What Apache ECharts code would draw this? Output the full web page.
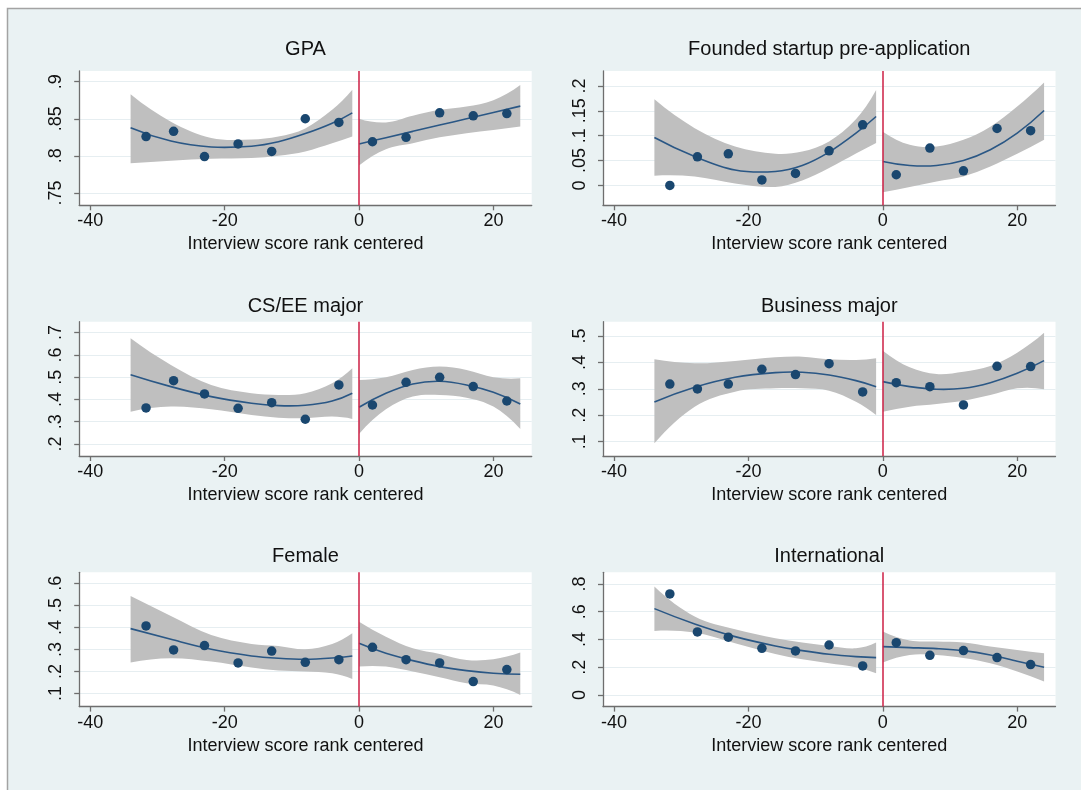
<!DOCTYPE html>
<html>
<head>
<meta charset="utf-8">
<script src="https://cdn.jsdelivr.net/npm/echarts@6/dist/echarts.min.js"></script>
<style>
html,body{margin:0;padding:0;background:#ffffff;}
#chart{width:1081px;height:790px;}
</style>
</head>
<body>
<div id="chart"></div>
<script>
// ---------- data ----------
const xTicks = [-40, -20, 0, 20];
const binX = [-31.7, -27.6, -23, -18, -13, -8, -3, 2, 7, 12, 17, 22];
const fitXLeft = [-34, -28, -22, -16, -12, -8, -4, -1];
const fitXRight = [0, 4, 8, 12, 16, 20, 24];

// GPA
const gpaTicks = [0.75, 0.8, 0.85, 0.9];
const gpaPoints = [0.826, 0.833, 0.799, 0.816, 0.806, 0.850, 0.845, 0.819, 0.825, 0.858, 0.854, 0.857];
const gpaFitL = [0.838, 0.820, 0.812, 0.813, 0.819, 0.830, 0.844, 0.858];
const gpaLoL  = [0.790, 0.7935, 0.796, 0.797, 0.800, 0.806, 0.817, 0.826];
const gpaHiL  = [0.883, 0.846, 0.824, 0.822, 0.826, 0.837, 0.862, 0.889];
const gpaFitR = [0.816, 0.8245, 0.833, 0.8415, 0.850, 0.8585, 0.867];
const gpaLoR  = [0.787, 0.809, 0.817, 0.825, 0.8306, 0.835, 0.8396];
const gpaHiR  = [0.850, 0.845, 0.854, 0.862, 0.8665, 0.875, 0.8955];

// Founded startup pre-application
const fndTicks = [0, 0.05, 0.1, 0.15, 0.2];
const fndPoints = [0.0, 0.0575, 0.0635, 0.011, 0.024, 0.0696, 0.1217, 0.0214, 0.075, 0.0294, 0.1144, 0.110];
const fndFitL = [0.0963, 0.058, 0.031, 0.028, 0.040, 0.067, 0.105, 0.1385];
const fndLoL  = [0.0194, 0.018, 0.004, -0.003, 0.010, 0.035, 0.064, 0.085];
const fndHiL  = [0.173, 0.115, 0.078, 0.0636, 0.068, 0.0883, 0.133, 0.192];
const fndFitR = [0.048, 0.040, 0.040, 0.050, 0.0716, 0.105, 0.1505];
const fndLoR  = [-0.014, -0.003, 0.008, 0.018, 0.038, 0.0636, 0.0917];
const fndHiR  = [0.108, 0.0816, 0.078, 0.0917, 0.118, 0.1585, 0.207];

// CS/EE major
const csTicks = [0.2, 0.3, 0.4, 0.5, 0.6, 0.7];
const csPoints = [0.362, 0.4844, 0.4246, 0.360, 0.3856, 0.311, 0.465, 0.375, 0.477, 0.4994, 0.4575, 0.393];
const csFitL = [0.511, 0.4575, 0.4126, 0.3826, 0.372, 0.3737, 0.393, 0.4275];
const csLoL  = [0.345, 0.368, 0.3557, 0.330, 0.318, 0.3153, 0.3228, 0.3123];
const csHiL  = [0.6746, 0.555, 0.465, 0.4275, 0.420, 0.4275, 0.4725, 0.540];
const csFitR = [0.3647, 0.4275, 0.4695, 0.4814, 0.465, 0.432, 0.3796];
const csLoR  = [0.245, 0.3557, 0.4126, 0.420, 0.408, 0.3677, 0.2674];
const csHiR  = [0.4874, 0.4994, 0.5323, 0.5473, 0.5323, 0.4994, 0.4949];

// Business major
const busTicks = [0.1, 0.2, 0.3, 0.4, 0.5];
const busPoints = [0.318, 0.2994, 0.318, 0.374, 0.354, 0.395, 0.288, 0.323, 0.308, 0.239, 0.385, 0.384];
const busFitL = [0.250, 0.3057, 0.3435, 0.3612, 0.3625, 0.3524, 0.3309, 0.3082];
const busLoL  = [0.0937, 0.2325, 0.2893, 0.3019, 0.3019, 0.2931, 0.2514, 0.2009];
const busHiL  = [0.4117, 0.3965, 0.4054, 0.4192, 0.4218, 0.4117, 0.4091, 0.4155];
const busFitR = [0.3271, 0.3082, 0.2981, 0.3019, 0.3233, 0.3587, 0.4066];
const busLoR  = [0.2136, 0.2325, 0.2426, 0.2552, 0.2767, 0.3019, 0.2981];
const busHiR  = [0.4445, 0.3814, 0.3561, 0.365, 0.3864, 0.4369, 0.5126];

// Female
const femTicks = [0.1, 0.2, 0.3, 0.4, 0.5, 0.6];
const femPoints = [0.4067, 0.298, 0.3175, 0.239, 0.293, 0.242, 0.254, 0.310, 0.254, 0.239, 0.1544, 0.209];
const femFitL = [0.3946, 0.3462, 0.3009, 0.2707, 0.2601, 0.2556, 0.2616, 0.2707];
const femLoL  = [0.2405, 0.2601, 0.245, 0.2178, 0.2042, 0.1997, 0.1921, 0.1665];
const femHiL  = [0.5426, 0.452, 0.3659, 0.3251, 0.316, 0.3009, 0.3251, 0.3734];
const femFitR = [0.3281, 0.2828, 0.2495, 0.2224, 0.2042, 0.1921, 0.1876];
const femLoR  = [0.2224, 0.2224, 0.1997, 0.174, 0.1468, 0.1362, 0.094];
const femHiR  = [0.4263, 0.3583, 0.3054, 0.2798, 0.2526, 0.2556, 0.2858];

// International
const intTicks = [0, 0.2, 0.4, 0.6, 0.8];
const intPoints = [0.728, 0.454, 0.416, 0.336, 0.317, 0.360, 0.209, 0.377, 0.286, 0.320, 0.269, 0.219];
const intFitL = [0.6222, 0.5117, 0.4204, 0.3532, 0.3195, 0.2931, 0.2763, 0.2691];
const intLoL  = [0.4613, 0.4492, 0.3724, 0.2955, 0.257, 0.2282, 0.1994, 0.1562];
const intHiL  = [0.7808, 0.5646, 0.4733, 0.4084, 0.3772, 0.3532, 0.3363, 0.3772];
const intFitR = [0.3483, 0.3411, 0.3339, 0.3195, 0.2883, 0.2426, 0.1994];
const intLoR  = [0.233, 0.2883, 0.2883, 0.2667, 0.2282, 0.1682, 0.0961];
const intHiR  = [0.4565, 0.3916, 0.3844, 0.3772, 0.3483, 0.3243, 0.3003];

const panels = [
  {title: 'GPA', ticks: gpaTicks, yMin: 0.7333, yMax: 0.9144, pts: gpaPoints,
   fitL: gpaFitL, loL: gpaLoL, hiL: gpaHiL, fitR: gpaFitR, loR: gpaLoR, hiR: gpaHiR},
  {title: 'Founded startup pre-application', ticks: fndTicks, yMin: -0.040, yMax: 0.230, pts: fndPoints,
   fitL: fndFitL, loL: fndLoL, hiL: fndHiL, fitR: fndFitR, loR: fndLoR, hiR: fndHiR},
  {title: 'CS/EE major', ticks: csTicks, yMin: 0.146, yMax: 0.749, pts: csPoints,
   fitL: csFitL, loL: csLoL, hiL: csHiL, fitR: csFitR, loR: csLoR, hiR: csHiR},
  {title: 'Business major', ticks: busTicks, yMin: 0.0457, yMax: 0.554, pts: busPoints,
   fitL: busFitL, loL: busLoL, hiL: busHiL, fitR: busFitR, loR: busLoR, hiR: busHiR},
  {title: 'Female', ticks: femTicks, yMin: 0.041, yMax: 0.65, pts: femPoints,
   fitL: femFitL, loL: femLoL, hiL: femHiL, fitR: femFitR, loR: femLoR, hiR: femHiR},
  {title: 'International', ticks: intTicks, yMin: -0.084, yMax: 0.884, pts: intPoints,
   fitL: intFitL, loL: intLoL, hiL: intHiL, fitR: intFitR, loR: intLoR, hiR: intHiR}
];

// ---------- layout / style ----------
const FONT = '"Liberation Sans", Arial, Helvetica, sans-serif';
const colLeft = [79.2, 603];
const colWidth = 452.5;
const rowTop = [71, 321.7, 572.3];
const rowHeight = 134.3;
const titleY = [49, 306.7, 556];
const X_MIN = -41.65, X_MAX = 25.7;

const NAVY = '#1a476f';
const FITC = '#2a5785';
const BAND = '#bfbfbf';
const REDL = '#cc1f45';
const AXC = '#6e6e6e';
const GRIDC = '#e6eef1';

function fmtY(v) {
  let s = String(Math.round(v * 1000) / 1000);
  return s.replace(/^0\./, '.').replace(/^-0\./, '-.');
}
function pairs(xs, ys) { return xs.map((x, i) => [x, ys[i]]); }

// smooth cubic Hermite path through pixel points (drawing helper only)
function hermite(pts, move) {
  const n = pts.length;
  const sec = [];
  for (let k = 0; k < n - 1; k++) {
    sec.push((pts[k + 1][1] - pts[k][1]) / (pts[k + 1][0] - pts[k][0]));
  }
  const m = new Array(n);
  for (let k = 1; k < n - 1; k++) {
    m[k] = (pts[k + 1][1] - pts[k - 1][1]) / (pts[k + 1][0] - pts[k - 1][0]);
  }
  if (n > 2) {
    m[0] = 2 * sec[0] - m[1];
    m[n - 1] = 2 * sec[n - 2] - m[n - 2];
  } else { m[0] = sec[0]; m[n - 1] = sec[0]; }
  let d = (move ? 'M' : 'L') + pts[0][0].toFixed(2) + ' ' + pts[0][1].toFixed(2);
  for (let k = 0; k < n - 1; k++) {
    const h = pts[k + 1][0] - pts[k][0];
    const c1x = pts[k][0] + h / 3, c1y = pts[k][1] + m[k] * h / 3;
    const c2x = pts[k + 1][0] - h / 3, c2y = pts[k + 1][1] - m[k + 1] * h / 3;
    d += ' C' + c1x.toFixed(2) + ' ' + c1y.toFixed(2) + ' ' + c2x.toFixed(2) + ' ' + c2y.toFixed(2) +
         ' ' + pts[k + 1][0].toFixed(2) + ' ' + pts[k + 1][1].toFixed(2);
  }
  return d;
}

function bandSeries(i, xs, lo, hi) {
  return {
    type: 'custom', xAxisIndex: i, yAxisIndex: i, silent: true, z: 2, animation: false,
    data: xs.map((x, k) => [x, lo[k], hi[k]]),
    encode: {x: 0, y: [1, 2]},
    renderItem: function (params, api) {
      if (params.dataIndex !== 0) return null;
      const up = xs.map((x, k) => api.coord([x, hi[k]]));
      const dn = xs.map((x, k) => api.coord([x, lo[k]])).reverse();
      const d = hermite(up, true) + ' ' + hermite(dn, false) + ' Z';
      return {type: 'path', shape: {pathData: d}, style: {fill: BAND, stroke: null}};
    }
  };
}

function fitSeries(i, xs, ys) {
  return {
    type: 'custom', xAxisIndex: i, yAxisIndex: i, silent: true, z: 3, animation: false,
    data: pairs(xs, ys),
    encode: {x: 0, y: 1},
    renderItem: function (params, api) {
      if (params.dataIndex !== 0) return null;
      const pts = xs.map((x, k) => api.coord([x, ys[k]]));
      return {type: 'path', shape: {pathData: hermite(pts, true)},
              style: {fill: null, stroke: FITC, lineWidth: 1.6}};
    }
  };
}

const grids = [], xAxes = [], yAxes = [], series = [], graphics = [];

graphics.push({
  type: 'rect', z: -100, silent: true,
  shape: {x: 7.5, y: 8.5, width: 1200, height: 900},
  style: {fill: '#eaf2f3', stroke: '#a3a3a3', lineWidth: 1.5}
});

panels.forEach((p, i) => {
  const col = i % 2, row = Math.floor(i / 2);
  const left = colLeft[col], top = rowTop[row];
  grids.push({left: left, top: top, width: colWidth, height: rowHeight,
    show: true, backgroundColor: '#ffffff', borderWidth: 0, containLabel: false});

  graphics.push({
    type: 'text', silent: true,
    x: left + colWidth / 2, y: titleY[row],
    style: {text: p.title, fill: '#111111', font: '20px ' + FONT,
            textAlign: 'center', textVerticalAlign: 'middle'}
  });

  xAxes.push({
    gridIndex: i, type: 'value', min: X_MIN, max: X_MAX,
    name: 'Interview score rank centered', nameLocation: 'middle', nameGap: 30,
    nameTextStyle: {fontSize: 18, fontFamily: FONT, color: '#111111'},
    axisLine: {show: true, onZero: false, lineStyle: {color: AXC, width: 1.3}},
    axisTick: {show: true, length: 5, inside: false, customValues: xTicks,
               lineStyle: {color: AXC, width: 1.3}},
    axisLabel: {show: true, customValues: xTicks, margin: 7, fontSize: 18,
                fontFamily: FONT, color: '#111111', formatter: v => String(v)},
    splitLine: {show: false}
  });

  yAxes.push({
    gridIndex: i, type: 'value', min: p.yMin, max: p.yMax,
    axisLine: {show: true, onZero: false, lineStyle: {color: AXC, width: 1.3}},
    axisTick: {show: true, length: 5, inside: false, customValues: p.ticks,
               lineStyle: {color: AXC, width: 1.3}},
    axisLabel: {show: true, customValues: p.ticks, rotate: 90, margin: 14,
                fontSize: 18, lineHeight: 18, fontFamily: FONT, color: '#111111',
                formatter: fmtY},
    splitLine: {show: true, lineStyle: {color: GRIDC, width: 1.2}}
  });

  series.push(bandSeries(i, fitXLeft, p.loL, p.hiL));
  series.push(bandSeries(i, fitXRight, p.loR, p.hiR));
  series.push(fitSeries(i, fitXLeft, p.fitL));
  series.push(fitSeries(i, fitXRight, p.fitR));

  series.push({
    type: 'scatter', xAxisIndex: i, yAxisIndex: i,
    data: pairs(binX, p.pts), symbol: 'circle', symbolSize: 9.5,
    itemStyle: {color: NAVY, opacity: 1}, silent: true, z: 5, animation: false,
    markLine: {
      silent: true, symbol: 'none', animation: false,
      label: {show: false},
      lineStyle: {color: REDL, width: 1.5, type: 'solid'},
      data: [{xAxis: 0}]
    }
  });
});

const chart = echarts.init(document.getElementById('chart'), null, {renderer: 'canvas'});
chart.setOption({
  backgroundColor: '#ffffff',
  animation: false,
  textStyle: {fontFamily: FONT},
  grid: grids, xAxis: xAxes, yAxis: yAxes, series: series,
  graphic: graphics
});
</script>
</body>
</html>
